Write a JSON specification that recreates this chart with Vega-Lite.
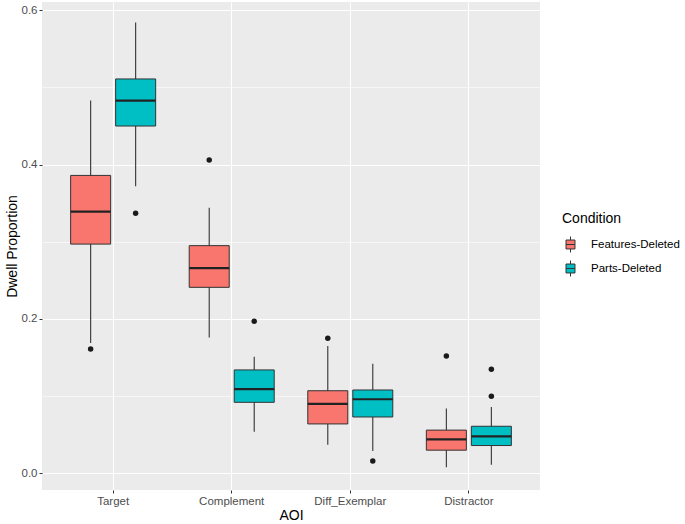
{
  "$schema": "https://vega.github.io/schema/vega-lite/v6.json",
  "width": 498,
  "height": 488,
  "autosize": "none",
  "padding": {"left": 42, "top": 2, "right": 145, "bottom": 34},
  "background": "white",
  "config": {
    "view": {"fill": "#EBEBEB", "stroke": null},
    "font": "Liberation Sans"
  },
  "datasets": {
    "boxes": [
      {"AOI": "Target", "Condition": "Features-Deleted", "lower": 0.169, "q1": 0.297, "median": 0.339, "q3": 0.386, "upper": 0.483},
      {"AOI": "Target", "Condition": "Parts-Deleted", "lower": 0.372, "q1": 0.450, "median": 0.483, "q3": 0.511, "upper": 0.584},
      {"AOI": "Complement", "Condition": "Features-Deleted", "lower": 0.176, "q1": 0.241, "median": 0.266, "q3": 0.295, "upper": 0.344},
      {"AOI": "Complement", "Condition": "Parts-Deleted", "lower": 0.054, "q1": 0.092, "median": 0.109, "q3": 0.134, "upper": 0.151},
      {"AOI": "Diff_Exemplar", "Condition": "Features-Deleted", "lower": 0.037, "q1": 0.064, "median": 0.090, "q3": 0.107, "upper": 0.165},
      {"AOI": "Diff_Exemplar", "Condition": "Parts-Deleted", "lower": 0.029, "q1": 0.073, "median": 0.096, "q3": 0.108, "upper": 0.142},
      {"AOI": "Distractor", "Condition": "Features-Deleted", "lower": 0.008, "q1": 0.030, "median": 0.044, "q3": 0.056, "upper": 0.084},
      {"AOI": "Distractor", "Condition": "Parts-Deleted", "lower": 0.011, "q1": 0.036, "median": 0.048, "q3": 0.061, "upper": 0.086}
    ],
    "outliers": [
      {"AOI": "Target", "Condition": "Features-Deleted", "value": 0.161},
      {"AOI": "Target", "Condition": "Parts-Deleted", "value": 0.337},
      {"AOI": "Complement", "Condition": "Features-Deleted", "value": 0.406},
      {"AOI": "Complement", "Condition": "Parts-Deleted", "value": 0.197},
      {"AOI": "Diff_Exemplar", "Condition": "Features-Deleted", "value": 0.175},
      {"AOI": "Diff_Exemplar", "Condition": "Parts-Deleted", "value": 0.016},
      {"AOI": "Distractor", "Condition": "Features-Deleted", "value": 0.152},
      {"AOI": "Distractor", "Condition": "Parts-Deleted", "value": 0.135},
      {"AOI": "Distractor", "Condition": "Parts-Deleted", "value": 0.100}
    ]
  },
  "encoding": {
    "x": {
      "field": "AOI", "type": "nominal",
      "sort": ["Target", "Complement", "Diff_Exemplar", "Distractor"],
      "scale": {"paddingInner": 0, "paddingOuter": 0.1},
      "axis": {
        "title": "AOI", "titleFontSize": 14, "titleFontWeight": "normal", "titleColor": "black", "titlePadding": 2,
        "labelAngle": 0, "labelFontSize": 11.5, "labelColor": "#4D4D4D", "labelPadding": 2,
        "tickColor": "#333333", "tickSize": 3, "tickWidth": 1, "domain": false,
        "grid": true, "gridColor": "white", "gridWidth": 1.1, "bandPosition": 0.5
      }
    },
    "xOffset": {
      "field": "Condition", "type": "nominal",
      "scale": {"paddingInner": 0.111, "paddingOuter": 0.373}
    }
  },
  "resolve": {"axis": {"y": "independent"}},
  "layer": [
    {
      "data": {"name": "boxes"},
      "mark": {"type": "rule", "color": "#333333", "strokeWidth": 1.1},
      "encoding": {
        "y": {
          "field": "lower", "type": "quantitative",
          "scale": {"domain": [-0.0216, 0.6107], "nice": false, "zero": false},
          "axis": {
            "orient": "left", "values": [0, 0.2, 0.4, 0.6], "format": ".1f",
            "title": "Dwell Proportion", "titleFontSize": 14, "titleFontWeight": "normal", "titleColor": "black", "titlePadding": 2,
            "labelFontSize": 11.5, "labelColor": "#4D4D4D", "labelPadding": 2,
            "tickColor": "#333333", "tickSize": 3, "tickWidth": 1, "domain": false,
            "grid": true, "gridColor": "white", "gridWidth": 1.1
          }
        },
        "y2": {"field": "upper"}
      }
    },
    {
      "data": {"name": "boxes"},
      "mark": {"type": "bar", "stroke": "#333333", "strokeWidth": 1, "opacity": 1},
      "encoding": {
        "y": {"field": "q1", "type": "quantitative", "scale": {"domain": [-0.0216, 0.6107], "nice": false, "zero": false}, "axis": null},
        "y2": {"field": "q3"},
        "fill": {
          "field": "Condition", "type": "nominal",
          "scale": {"domain": ["Features-Deleted", "Parts-Deleted"], "range": ["#F8766D", "#00BFC4"]},
          "legend": {
            "orient": "none", "legendX": 520, "legendY": 210, "padding": 0,
            "title": "Condition", "titleFontSize": 14, "titleFontWeight": "normal", "titleColor": "black", "titlePadding": 10,
            "labelFontSize": 11.5, "labelColor": "black", "labelOffset": 12,
            "symbolType": "M-0.56,-0.56H0.56V0.56H-0.56Z M-0.56,0H0.56 M0,-0.56V-1 M0,0.56V1",
            "symbolSize": 256, "symbolStrokeColor": "#333333", "symbolStrokeWidth": 1, "symbolOpacity": 1,
            "rowPadding": 3
          }
        }
      }
    },
    {
      "data": {"name": "boxes"},
      "mark": {"type": "tick", "color": "#222222", "size": 40, "thickness": 2.2, "opacity": 1},
      "encoding": {
        "y": {"field": "median", "type": "quantitative", "scale": {"domain": [-0.0216, 0.6107], "nice": false, "zero": false}, "axis": null}
      }
    },
    {
      "data": {"name": "outliers"},
      "mark": {"type": "point", "filled": true, "color": "#1A1A1A", "size": 30, "opacity": 1},
      "encoding": {
        "y": {
          "field": "value", "type": "quantitative",
          "scale": {"domain": [-0.0216, 0.6107], "nice": false, "zero": false},
          "axis": {
            "orient": "right", "values": [0.1, 0.3, 0.5], "title": null,
            "labels": false, "ticks": false, "domain": false,
            "grid": true, "gridColor": "white", "gridWidth": 0.55
          }
        }
      }
    }
  ]
}
